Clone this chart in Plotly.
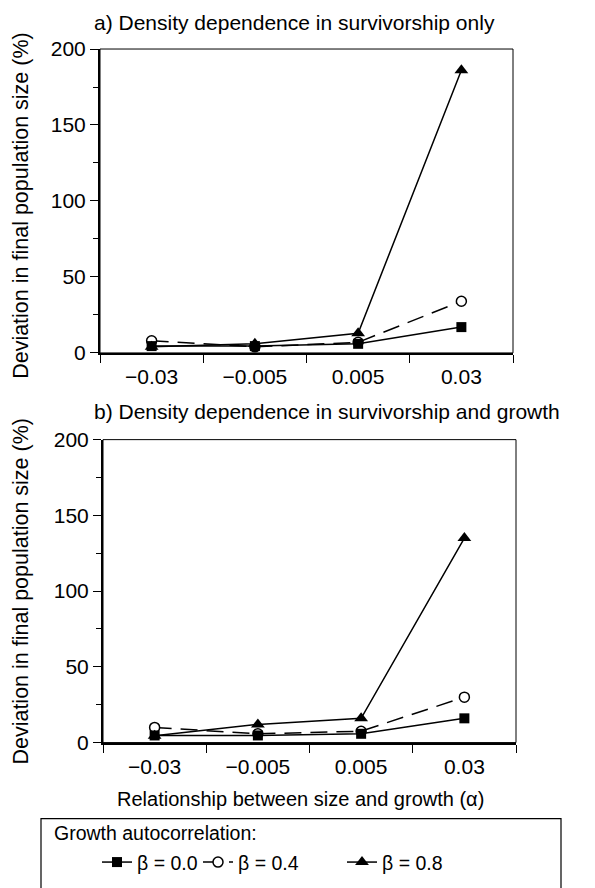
import plotly.graph_objects as go

W, H = 595, 888

# ---- data ----
alpha_labels = ["\u22120.03", "\u22120.005", "0.005", "0.03"]
series_names = ["\u03b2 = 0.0", "\u03b2 = 0.4", "\u03b2 = 0.8"]

# panel a) density dependence in survivorship only
a_beta00 = [4.5, 4.5, 6, 17]
a_beta04 = [8, 4, 7, 34]
a_beta08 = [4, 6, 13, 186]

# panel b) density dependence in survivorship and growth
b_beta00 = [4.7, 4.7, 5.8, 16]
b_beta04 = [10, 5.8, 7.5, 30]
b_beta08 = [4.5, 12, 16, 135]

y_ticks = [0, 50, 100, 150, 200]

FONT = "Liberation Sans, Arial, Helvetica, sans-serif"

def px_x(p):
    return p / W

def px_y(p):
    return 1 - p / H

styles = [
    dict(marker=dict(symbol="square", size=10, color="black"),
         line=dict(color="black", width=1.5)),
    dict(marker=dict(symbol="circle", size=10, color="white",
                     line=dict(color="black", width=1.5)),
         line=dict(color="black", width=1.5, dash="17px,9px")),
    dict(marker=dict(symbol="triangle-up", size=12, color="black"),
         line=dict(color="black", width=1.5)),
]
legend_ids = ["legend", "legend2", "legend3"]
draw_order = [1, 0, 2]

fig = go.Figure()
panels = [("x", "y", [a_beta00, a_beta04, a_beta08], True),
          ("x2", "y2", [b_beta00, b_beta04, b_beta08], False)]
for xa, ya, data, show in panels:
    for i in draw_order:
        fig.add_trace(go.Scatter(
            x=alpha_labels, y=data[i], mode="lines+markers",
            name=series_names[i], xaxis=xa, yaxis=ya,
            marker=styles[i]["marker"], line=styles[i]["line"],
            cliponaxis=False, showlegend=show, legend=legend_ids[i],
        ))

def xaxis_cfg(domain, anchor):
    return dict(domain=domain, anchor=anchor, type="category",
                range=[-0.5, 3.5], tickson="boundaries", ticks="outside",
                ticklen=8, tickwidth=1.2, tickcolor="black",
                ticklabelstandoff=4,
                showline=True, linecolor="black", linewidth=2,
                showgrid=False, zeroline=False,
                tickfont=dict(size=21, family=FONT, color="black"))

def yaxis_cfg(domain, anchor):
    return dict(domain=domain, anchor=anchor, range=[0, 200],
                tickvals=y_ticks, ticks="outside", ticklen=8, tickwidth=1.2,
                tickcolor="black",
                minor=dict(dtick=25, ticks="outside", ticklen=5,
                           tickwidth=1, tickcolor="black"),
                showline=True, linecolor="black", linewidth=2,
                showgrid=False, zeroline=False,
                tickfont=dict(size=21, family=FONT, color="black"))

xa_dom = [px_x(100), px_x(513)]
ya_dom = [px_y(350), px_y(38)]
xb_dom = [px_x(103), px_x(516)]
yb_dom = [px_y(750), px_y(439)]

legend_common = dict(orientation="h", yanchor="middle", y=px_y(873),
                     xanchor="left", bgcolor="rgba(0,0,0,0)",
                     font=dict(size=19.5, family=FONT, color="black"),
                     borderwidth=0)

fig.update_layout(
    width=W, height=H, margin=dict(l=0, r=0, t=0, b=0),
    paper_bgcolor="white", plot_bgcolor="white",
    font=dict(family=FONT, size=21, color="black"),
    xaxis=xaxis_cfg(xa_dom, "y"), yaxis=yaxis_cfg(ya_dom, "x"),
    xaxis2=xaxis_cfg(xb_dom, "y2"), yaxis2=yaxis_cfg(yb_dom, "x2"),
    legend=dict(x=px_x(97), **legend_common),
    legend2=dict(x=px_x(198), **legend_common),
    legend3=dict(x=px_x(342), **legend_common),
)

# thin top/right frame
for xr, yr in [("x", "y"), ("x2", "y2")]:
    fig.add_shape(type="rect", xref=f"{xr} domain", yref=f"{yr} domain",
                  x0=0, x1=1, y0=0, y1=1, line=dict(color="black", width=1),
                  layer="below")

# legend box
fig.add_shape(type="rect", xref="paper", yref="paper",
              x0=px_x(41), x1=px_x(561), y0=px_y(900), y1=px_y(828),
              line=dict(color="black", width=1.2))

ann = [
    dict(text="a) Density dependence in survivorship only", x=px_x(92), y=px_y(11),
         xanchor="left", yanchor="middle", font=dict(size=21)),
    dict(text="b) Density dependence in survivorship and growth", x=px_x(92), y=px_y(410),
         xanchor="left", yanchor="middle", font=dict(size=21)),
    dict(text="Deviation in final population size (%)", x=px_x(21), y=px_y(199),
         xanchor="center", yanchor="middle", textangle=-90, font=dict(size=21.5)),
    dict(text="Deviation in final population size (%)", x=px_x(21), y=px_y(595),
         xanchor="center", yanchor="middle", textangle=-90, font=dict(size=21.5)),
    dict(text="Relationship between size and growth (\u03b1)", x=px_x(300), y=px_y(808),
         xanchor="center", yanchor="middle", font=dict(size=20)),
    dict(text="Growth autocorrelation:", x=px_x(52), y=px_y(843),
         xanchor="left", yanchor="middle", font=dict(size=19.5)),
]
for a in ann:
    fig.add_annotation(xref="paper", yref="paper", showarrow=False, **a)

fig.write_html("out.html")
